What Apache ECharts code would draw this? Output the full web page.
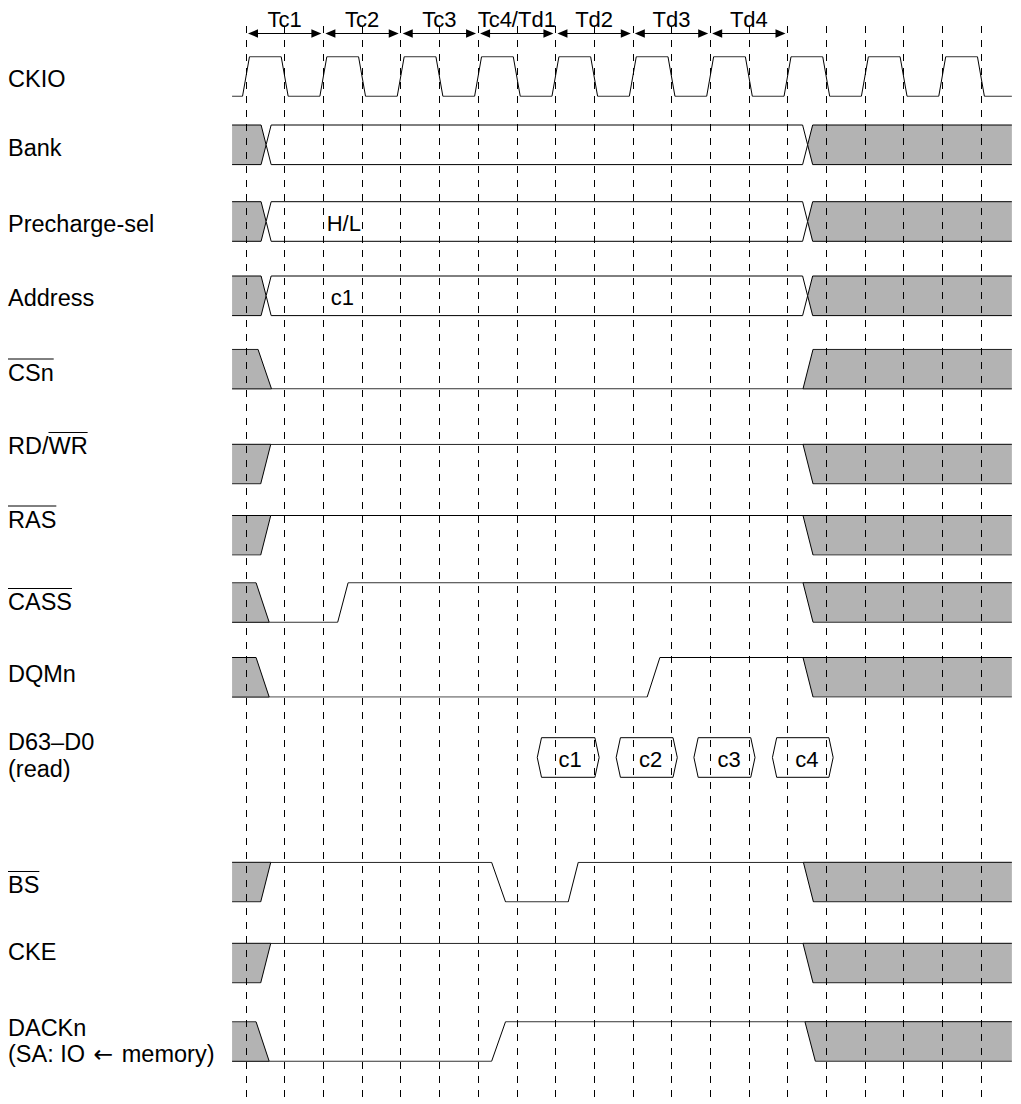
<!DOCTYPE html>
<html>
<head>
<meta charset="utf-8">
<style>
html,body{margin:0;padding:0;background:#fff;}
#chart{width:1021px;height:1104px;}
</style>
<script src="https://cdn.jsdelivr.net/npm/echarts@6/dist/echarts.min.js"></script>
</head>
<body>
<div id="chart"></div>
<script>
// ================= DATA =================
// time unit: half-cycle of CKIO (0 = first rising edge); level 1 = high, 0 = low
const T_START = -0.36, T_END = 19.8;

const periodNames = ['Tc1', 'Tc2', 'Tc3', 'Tc4/Td1', 'Td2', 'Td3', 'Td4'];
const periodStart = [0, 2, 4, 6, 8, 10, 12];
const periodEnd   = [2, 4, 6, 8, 10, 12, 14];

const signalNames = ['CKIO', 'Bank', 'Precharge-sel', 'Address', 'CSn', 'RD/WR', 'RAS', 'CASS', 'DQMn',
  'D63–D0\n(read)', 'BS', 'CKE', 'DACKn\n(SA: IO ← memory)'];
// [text before overline, overlined text]
const overlines = [null, null, null, null, ['', 'CSn'], ['RD/', 'WR'], ['', 'RAS'], ['', 'CASS'], null, null, ['', 'BS'], null, null];

const ckio = [[-0.36,0],[-0.09,0],[0.09,1],[0.91,1],[1.09,0],[1.91,0],[2.09,1],[2.91,1],[3.09,0],
  [3.91,0],[4.09,1],[4.91,1],[5.09,0],[5.91,0],[6.09,1],[6.91,1],[7.09,0],[7.91,0],[8.09,1],[8.91,1],
  [9.09,0],[9.91,0],[10.09,1],[10.91,1],[11.09,0],[11.91,0],[12.09,1],[12.91,1],[13.09,0],[13.91,0],
  [14.09,1],[14.91,1],[15.09,0],[15.91,0],[16.09,1],[16.91,1],[17.09,0],[17.91,0],[18.09,1],[18.91,1],
  [19.09,0],[19.8,0]];

// bus segments: [start, end, 'x' = undefined / 'v' = valid, label, label position]
const bank         = [[-0.36, 0.52, 'x'], [0.52, 14.52, 'v'], [14.52, 19.8, 'x']];
const prechargeSel = [[-0.36, 0.52, 'x'], [0.52, 14.52, 'v', 'H/L', 2.53], [14.52, 19.8, 'x']];
const address      = [[-0.36, 0.52, 'x'], [0.52, 14.52, 'v', 'c1', 2.49], [14.52, 19.8, 'x']];
const dataRead     = [[7.53, 9.13, 'v', 'c1', 8.38], [9.57, 11.15, 'v', 'c2', 10.46],
                      [11.58, 13.16, 'v', 'c3', 12.49], [13.61, 15.18, 'v', 'c4', 14.5]];

const csn   = [[-0.36,1],[0.31,1],[0.66,0],[14.40,0],[14.66,1],[19.8,1]];
const csnX  = [[-0.36,0.66],[14.40,19.8]];
const rdwr  = [[-0.36,0],[0.38,0],[0.64,1],[14.40,1],[14.66,0],[19.8,0]];
const rdwrX = [[-0.36,0.64],[14.40,19.8]];
const ras   = [[-0.36,0],[0.38,0],[0.64,1],[14.40,1],[14.66,0],[19.8,0]];
const rasX  = [[-0.36,0.64],[14.40,19.8]];
const cass  = [[-0.36,1],[0.26,1],[0.60,0],[2.37,0],[2.64,1],[14.40,1],[14.66,0],[19.8,0]];
const cassX = [[-0.36,0.60],[14.40,19.8]];
const dqmn  = [[-0.36,1],[0.26,1],[0.60,0],[10.37,0],[10.70,1],[14.40,1],[14.66,0],[19.8,0]];
const dqmnX = [[-0.36,0.60],[14.40,19.8]];
const bs    = [[-0.36,0],[0.38,0],[0.64,1],[6.35,1],[6.71,0],[8.33,0],[8.59,1],[14.41,1],[14.67,0],[19.8,0]];
const bsX   = [[-0.36,0.64],[14.41,19.8]];
const cke   = [[-0.36,0],[0.38,0],[0.64,1],[14.40,1],[14.66,0],[19.8,0]];
const ckeX  = [[-0.36,0.64],[14.40,19.8]];
const dackn = [[-0.36,1],[0.26,1],[0.60,0],[6.35,0],[6.71,1],[14.45,1],[14.72,0],[19.8,0]];
const dacknX= [[-0.36,0.60],[14.45,19.8]];

// ================= LAYOUT / STYLE =================
const X_MIN = -1, X_MAX = 20;
const X0_PX = 246, UNIT_PX = 38.68;
const GRID_LEFT = X0_PX + (X_MIN) * UNIT_PX;
const GRID_W = (X_MAX - X_MIN) * UNIT_PX;
const ROW_TOP = [56.7, 125, 201.7, 276, 349.3, 444.3, 515.5, 582.7, 657.5, 737.7, 862.3, 943.3, 1021.7];
const ROW_H = 39.6;
const LABEL_X = 8;
const LABEL_Y = [78.5, 148, 224, 298, 372.5, 446, 519.5, 602, 674, 755.3, 885, 952, 1041];
const FONT = '22px "Liberation Sans", Arial, Helvetica, sans-serif';
const LABEL_FONT = '23.5px "Liberation Sans", Arial, Helvetica, sans-serif';
const BLACK = '#000', GRAY = '#b3b3b3';
const BUS_HALF = 0.13, BOX_SLANT = 0.11;

const rows = [
  {kind: 'line', curve: ckio, zones: []},
  {kind: 'bus', segs: bank, h: BUS_HALF},
  {kind: 'bus', segs: prechargeSel, h: BUS_HALF},
  {kind: 'bus', segs: address, h: BUS_HALF},
  {kind: 'line', curve: csn, zones: csnX},
  {kind: 'line', curve: rdwr, zones: rdwrX},
  {kind: 'line', curve: ras, zones: rasX},
  {kind: 'line', curve: cass, zones: cassX},
  {kind: 'line', curve: dqmn, zones: dqmnX},
  {kind: 'bus', segs: dataRead, h: BOX_SLANT},
  {kind: 'line', curve: bs, zones: bsX},
  {kind: 'line', curve: cke, zones: ckeX},
  {kind: 'line', curve: dackn, zones: dacknX}
];

function textStyle(text, extra) {
  return Object.assign({text: text, font: FONT, fill: BLACK,
    align: 'center', verticalAlign: 'middle', textAlign: 'center', textVerticalAlign: 'middle'}, extra || {});
}

function renderBus(segs, h) {
  return function (params, api) {
    const s = segs[params.dataIndex];
    const a = s[0], b = s[1];
    const P = (t, l) => api.coord([t, l]);
    const up = [], lo = [];
    if (a <= T_START) { up.push(P(a, 1)); lo.push(P(a, 0)); }
    else { up.push(P(a, 0.5)); lo.push(P(a, 0.5)); up.push(P(a + h, 1)); lo.push(P(a + h, 0)); }
    if (b >= T_END) { up.push(P(b, 1)); lo.push(P(b, 0)); }
    else { up.push(P(b - h, 1)); lo.push(P(b - h, 0)); up.push(P(b, 0.5)); lo.push(P(b, 0.5)); }
    const poly = up.concat(lo.slice().reverse());
    const children = [
      {type: 'polygon', shape: {points: poly}, style: {fill: s[2] === 'x' ? GRAY : '#fff', stroke: 'none'}},
      {type: 'polyline', shape: {points: up}, style: {stroke: BLACK, lineWidth: 1, fill: 'none'}},
      {type: 'polyline', shape: {points: lo}, style: {stroke: BLACK, lineWidth: 1, fill: 'none'}}
    ];
    if (s[3]) {
      const c = P(s[4], 0.5);
      children.push({type: 'text', x: c[0], y: c[1] + 2, style: textStyle(s[3])});
    }
    return {type: 'group', children: children};
  };
}

function renderZone(curve, zones) {
  return function (params, api) {
    const z = zones[params.dataIndex];
    const zs = z[0], ze = z[1];
    const pts = curve.filter(p => p[0] >= zs - 1e-9 && p[0] <= ze + 1e-9);
    const rail = zs <= T_START ? pts[pts.length - 1][1] : pts[0][1];
    const P = (t, l) => api.coord([t, l]);
    const poly = pts.map(p => P(p[0], p[1])).concat([P(ze, rail), P(zs, rail)]);
    return {type: 'group', children: [
      {type: 'polygon', shape: {points: poly}, style: {fill: GRAY, stroke: 'none'}},
      {type: 'polyline', shape: {points: [P(zs, rail), P(ze, rail)]}, style: {stroke: BLACK, lineWidth: 1, fill: 'none'}}
    ]};
  };
}

function renderArrow(params, api) {
  const i = params.dataIndex;
  const p1 = api.coord([periodStart[i], 0.5]);
  const p2 = api.coord([periodEnd[i], 0.5]);
  const tl = api.coord([(periodStart[i] + periodEnd[i]) / 2, 0.85]);
  const y = p1[1], gap = 2, L = 10, W = 4.2;
  const x1 = p1[0] + gap, x2 = p2[0] - gap;
  return {type: 'group', children: [
    {type: 'line', shape: {x1: x1 + 4, y1: y, x2: x2 - 4, y2: y}, style: {stroke: BLACK, lineWidth: 1}},
    {type: 'polygon', shape: {points: [[x1, y], [x1 + L, y - W], [x1 + L, y + W]]}, style: {fill: BLACK}},
    {type: 'polygon', shape: {points: [[x2, y], [x2 - L, y - W], [x2 - L, y + W]]}, style: {fill: BLACK}},
    {type: 'text', x: tl[0], y: tl[1], style: textStyle(periodNames[i])}
  ]};
}

// ================= OPTION =================
const grids = [], xAxes = [], yAxes = [], series = [];
function addGrid(top, height) {
  const idx = grids.length;
  grids.push({left: GRID_LEFT, width: GRID_W, top: top, height: height});
  xAxes.push({type: 'value', gridIndex: idx, min: X_MIN, max: X_MAX, show: false});
  yAxes.push({type: 'value', gridIndex: idx, min: 0, max: 1, show: false});
  return idx;
}

// period arrows
const gArrow = addGrid(13.5, 40);
series.push({type: 'custom', xAxisIndex: gArrow, yAxisIndex: gArrow, renderItem: renderArrow,
  data: periodStart.map((s, i) => [s, periodEnd[i]]), z: 3, silent: true});

rows.forEach((r, i) => {
  const g = addGrid(ROW_TOP[i], ROW_H);
  if (r.kind === 'line') {
    if (r.zones.length) {
      series.push({type: 'custom', xAxisIndex: g, yAxisIndex: g, renderItem: renderZone(r.curve, r.zones),
        data: r.zones.map(z => [z[0], z[1]]), z: 2, silent: true});
    }
    series.push({type: 'line', xAxisIndex: g, yAxisIndex: g, data: r.curve, showSymbol: false, symbol: 'none',
      lineStyle: {color: BLACK, width: 1}, z: 3, silent: true});
  } else {
    series.push({type: 'custom', xAxisIndex: g, yAxisIndex: g, renderItem: renderBus(r.segs, r.h),
      data: r.segs.map(s => [s[0], s[1]]), z: 2, silent: true});
  }
});

// dashed clock gridlines overlay (on top of everything)
const gDash = grids.length;
grids.push({left: X0_PX, width: 19 * UNIT_PX, top: 26, height: 1074});
xAxes.push({type: 'value', gridIndex: gDash, min: 0, max: 19, interval: 1, z: 10,
  axisLine: {show: false}, axisTick: {show: false}, axisLabel: {show: false},
  splitLine: {show: true, lineStyle: {color: BLACK, width: 1, type: [7, 7]}}});
yAxes.push({type: 'value', gridIndex: gDash, min: 0, max: 1, show: false});

// row labels & overlines
const mctx = document.createElement('canvas').getContext('2d');
mctx.font = LABEL_FONT;
const graphics = [];
signalNames.forEach((name, i) => {
  const hasArrow = name.indexOf('←') >= 0;
  const txt = hasArrow ? name.replace('←', '{arr|←}') : name;
  const extra = {align: 'left', textAlign: 'left', lineHeight: 26.5, font: LABEL_FONT};
  if (hasArrow) {
    extra.rich = {arr: {fontFamily: 'DejaVu Sans', fontSize: 23.5, lineHeight: 26.5, padding: [0, 2, 0, 2], fill: BLACK}};
  }
  graphics.push({type: 'text', x: LABEL_X, y: LABEL_Y[i], style: textStyle(txt, extra)});
  const ov = overlines[i];
  if (ov) {
    const yLine = LABEL_Y[i] - 13.5;
    const xa = LABEL_X + mctx.measureText(ov[0]).width;
    const xb = xa + mctx.measureText(ov[1]).width;
    graphics.push({type: 'line', shape: {x1: xa, y1: yLine, x2: xb, y2: yLine}, style: {stroke: BLACK, lineWidth: 1}});
  }
});

const chart = echarts.init(document.getElementById('chart'), null, {renderer: 'svg'});
chart.setOption({
  animation: false,
  backgroundColor: '#fff',
  grid: grids,
  xAxis: xAxes,
  yAxis: yAxes,
  series: series,
  graphic: {elements: graphics}
});
</script>
</body>
</html>
